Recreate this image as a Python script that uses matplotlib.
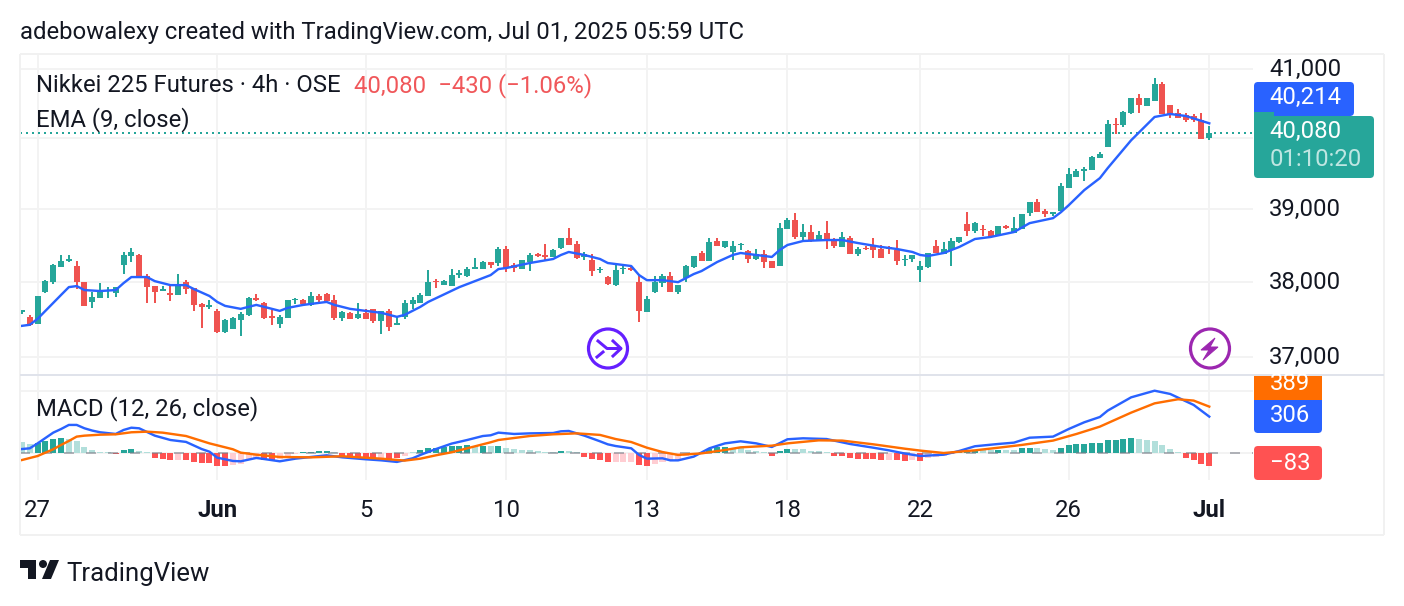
import matplotlib
matplotlib.use("Agg")
import matplotlib.pyplot as plt
from matplotlib.patches import Circle, FancyBboxPatch, Polygon, Rectangle
from matplotlib.transforms import ScaledTranslation

plt.rcParams['font.family'] = ['Roboto', 'DejaVu Sans']

opens = [37600,37533,37440,37867,38000,38206,38288,38219,38000,37733,37787,37880,37853,38233,38356,38370,38082,37947,37880,37853,
37827,38000,37920,37707,37667,37613,37333,37373,37493,37560,37787,37720,37547,37440,37520,37760,37760,37693,37813,37840,
37760,37520,37587,37520,37587,37640,37480,37613,37427,37533,37707,37720,37813,38014,37960,37947,38096,38082,38178,38178,
38274,38260,38452,38233,38178,38274,38384,38370,38343,38466,38603,38521,38343,38301,38164,38069,37960,38178,38192,38000,
37600,37867,37987,38082,37867,38055,38206,38397,38288,38562,38480,38411,38507,38425,38315,38384,38288,38219,38726,38849,
38617,38685,38562,38671,38589,38480,38603,38384,38466,38507,38452,38480,38438,38301,38315,38164,38206,38493,38384,38438,
38548,38795,38699,38726,38699,38630,38767,38671,38726,38945,39099,38973,38932,38973,39296,39451,39535,39549,39718,39873,
40203,40188,40362,40580,40464,40536,40783,40478,40362,40334,40319,40261,40000]
highs = [37627,37560,37813,38027,38247,38370,38370,38288,38000,37867,37987,37933,37933,38411,38466,38384,38110,37947,37947,37947,
38110,38027,37920,37720,37760,37640,37507,37533,37600,37800,37840,37733,37627,37560,37760,37787,37773,37867,37840,37853,
37827,37613,37600,37720,37640,37640,37613,37640,37533,37760,37800,37853,38164,38041,38027,38178,38164,38206,38329,38288,
38274,38480,38493,38260,38301,38397,38397,38521,38452,38603,38740,38562,38411,38384,38206,38082,38260,38219,38206,38110,
37813,38082,38110,38137,37960,38233,38356,38425,38603,38603,38562,38562,38534,38438,38452,38438,38288,38808,38877,38945,
38795,38781,38699,38836,38603,38685,38630,38480,38493,38603,38507,38493,38575,38370,38370,38288,38397,38575,38548,38603,
38617,38959,38822,38781,38712,38767,38781,38891,38932,39099,39141,39000,38959,39366,39577,39563,39591,39746,39803,40261,
40290,40392,40580,40638,40580,40870,40812,40478,40420,40362,40348,40362,40174]
lows = [37573,37413,37440,37853,37973,38206,38274,37907,37680,37653,37787,37787,37800,38110,38274,38069,37720,37720,37880,37747,
37827,37840,37613,37387,37640,37320,37320,37373,37280,37547,37747,37507,37427,37387,37520,37707,37707,37680,37720,37747,
37493,37480,37507,37507,37507,37453,37307,37347,37427,37507,37640,37720,37813,37920,37960,37947,38055,38069,38178,38178,
38192,38219,38137,38137,38178,38151,38343,38288,38343,38452,38507,38315,38301,38082,38123,37960,37947,38110,38151,37467,
37600,37853,37933,37867,37840,38000,38192,38288,38288,38493,38466,38301,38438,38260,38301,38192,38192,38219,38726,38589,
38562,38548,38562,38452,38466,38480,38384,38356,38438,38329,38329,38384,38233,38219,38274,38000,38192,38397,38384,38219,
38534,38630,38671,38630,38603,38630,38726,38671,38726,38904,38959,38891,38904,38973,39296,39451,39394,39549,39718,39873,
40058,40160,40348,40362,40464,40536,40348,40290,40290,40232,40232,39986,39972]
closes = [37627,37427,37813,38014,38233,38288,38315,38000,37680,37800,37867,37893,37933,38370,38411,38069,37933,37867,37907,37827,
37960,37907,37693,37667,37693,37333,37493,37520,37573,37787,37760,37520,37520,37533,37760,37773,37707,37813,37760,37747,
37520,37600,37507,37573,37507,37480,37613,37400,37453,37720,37760,37827,38000,38000,38014,38096,38123,38178,38206,38274,
38233,38452,38192,38192,38301,38370,38356,38343,38438,38603,38507,38329,38384,38151,38178,37973,38164,38192,38164,37613,
37773,38000,38082,37867,37960,38219,38356,38288,38548,38493,38562,38493,38521,38315,38384,38274,38192,38740,38849,38617,
38685,38562,38644,38575,38493,38617,38384,38452,38452,38438,38329,38452,38288,38315,38370,38219,38397,38397,38452,38562,
38617,38699,38808,38712,38617,38767,38740,38740,38932,39099,38959,38932,38959,39324,39493,39535,39563,39732,39775,40203,
40188,40377,40580,40478,40580,40783,40348,40348,40290,40261,40261,39986,40080]

ema_idx = [0,1,2,4,5,6,7,8,10,12,13,14,16,17,19,21,22,24,25,26,28,29,30,31,33,34,36,38,39,40,42,44,46,48,49,51,52,56,60,61,62,65,68,69,70,72,74,75,78,79,80,82,84,85,86,87,89,91,92,94,96,97,98,100,103,105,107,110,112,114,115,116,118,120,122,124,127,129,132,133,134,136,138,139,142,145,147,149,152]
ema_val = [37413,37427,37507,37720,37827,37933,37947,37893,37880,37893,37987,38069,38069,38014,37960,37960,37907,37813,37733,37680,37640,37667,37693,37667,37613,37653,37693,37720,37733,37693,37640,37613,37587,37533,37560,37667,37733,37933,38096,38178,38192,38260,38315,38370,38411,38370,38315,38260,38219,38096,38027,38027,38000,38055,38110,38151,38274,38370,38397,38370,38343,38438,38507,38562,38575,38575,38534,38480,38452,38411,38370,38356,38397,38480,38589,38617,38685,38808,38877,38959,39056,39268,39436,39577,39972,40305,40348,40319,40214]

hist = [76,62,69,83,97,104,97,83,41,21,7,7,-7,21,28,14,7,-28,-35,-41,-41,-41,-55,-62,-62,-83,-83,-76,-69,-41,-28,-41,-41,-35,-28,-7,7,7,14,14,7,
-14,-28,-35,-41,-41,-41,-41,-28,-14,7,21,35,35,41,48,48,55,48,48,48,48,35,28,21,21,14,7,7,14,14,7,-21,-35,-41,-55,-55,-55,-55,-76,-83,-69,-55,-41,-41,-14,-7,7,28,41,41,35,35,21,14,7,-14,14,28,28,28,14,14,7,-14,-14,-28,-35,-35,-35,-41,-41,-41,-48,
-41,-48,-28,-21,-14,-7,7,7,14,21,21,21,21,21,35,35,35,28,21,35,55,62,62,69,69,90,90,97,104,97,90,83,55,28,7,-28,-41,-69,-83]
hist_state = ('ggGGGGggggggRGGggRRRrRRRRRRrrrrRRrrrGGGGgRRRRRrRRrgGGGG'
              'GGGgGgGgggggggGggRRRRrrrRRrrrrrrGGGGgggggRGGgggggRRRRRRRrRR'
              'rRrrrrGGGggGggGGgggG' + 'G' * 9 + 'g' * 6 + 'R' * 4)

macd_idx = [0,1,2,4,5,6,7,8,9,10,12,13,14,15,17,19,21,23,24,25,26,27,28,30,31,33,35,37,39,41,44,46,48,50,51,53,55,57,59,60,61,63,65,68,69,70,72,74,75,76,78,79,80,82,83,84,86,88,90,92,94,96,98,100,103,106,109,111,113,115,118,120,122,125,127,129,132,134,136,138,139,142,145,147,150,152]
macd_val = [37,43,84,173,203,237,237,209,190,176,162,195,214,209,148,112,96,37,15,-35,-48,-62,-65,-37,-46,-65,-43,-29,-15,-32,-48,-57,-70,-40,-12,37,82,112,145,151,173,162,167,170,184,187,148,101,76,62,43,-12,-43,-40,-57,-57,-26,43,84,101,84,54,118,126,120,79,48,26,0,-21,-10,21,60,79,90,131,140,203,259,303,356,466,521,494,403,306]
signal_idx = [0,2,4,5,6,7,8,10,12,14,16,18,21,24,27,28,30,33,37,41,46,49,51,53,55,57,60,61,65,68,71,74,76,78,80,82,84,87,90,92,96,98,102,105,109,113,115,118,120,122,125,128,132,135,138,142,145,148,150,152]
signal_val = [-54,-21,35,71,104,140,148,156,159,176,181,173,145,84,35,7,-10,-29,-32,-23,-43,-59,-43,-15,10,43,93,112,145,159,167,154,120,95,48,12,-12,1,29,51,65,84,109,107,76,40,24,4,15,26,48,71,107,162,223,339,416,450,439,389]

x_ticks = [2,25,44,62,80,98,115,134,152]
x_labels = ['27','Jun','5','10','13','18','22','26','Jul']
y_ticks = [37000,38000,39000,40000,41000]
y_labels = ['37,000','38,000','39,000','','41,000']

GREEN = '#26a69a'; RED = '#ef5350'; BLUE = '#2962ff'; ORANGE = '#ff6d00'
GRID = '#f3f3f3'; TEXT = '#131722'
HIST_COLORS = {'G': GREEN, 'g': '#b2dfdb', 'R': '#ff5252', 'r': '#ffcdd2'}
W, H = 1404, 606
DPI = 100
PX = 72 / DPI
FS = 23.87

def box(x0, y0, x1, y1):
    return [x0 / W, 1 - y1 / H, (x1 - x0) / W, (y1 - y0) / H]

fig = plt.figure(figsize=(W / DPI, H / DPI), dpi=DPI, facecolor='white')

# price pane
ax = fig.add_axes(box(20, 54, 1253, 374))
ax.set_yscale('log')
ax.set_xlim(-0.256, 157.6)
ax.set_ylim(36776, 41220)
ax.set_xticks(x_ticks)
ax.set_yticks(y_ticks)
ax.set_yticks([], minor=True)
ax.yaxis.tick_right()
ax.set_yticklabels(y_labels)
ax.tick_params(axis='y', which='both', length=0, pad=16 * PX, labelsize=FS * PX, labelcolor=TEXT)
ax.tick_params(axis='x', length=0, labelbottom=False)
ax.grid(True, color=GRID, lw=2 * PX)
ax.set_axisbelow(True)
for s in ax.spines.values():
    s.set_visible(False)
shift_up = ScaledTranslation(0, 2 / DPI, fig.dpi_scale_trans)
for lab in ax.get_yticklabels():
    lab.set_transform(lab.get_transform() + shift_up)

idx = list(range(len(opens)))
cols = [GREEN if c >= o else RED for o, c in zip(opens, closes)]
ax.vlines(idx, lows, highs, colors=cols, lw=2 * PX, zorder=3)
ax.bar(idx, [abs(c - o) for o, c in zip(opens, closes)], bottom=[min(o, c) for o, c in zip(opens, closes)],
       width=0.77, color=cols, zorder=3, linewidth=0)
ax.plot(ema_idx, ema_val, color=BLUE, lw=2.4 * PX, zorder=4, solid_joinstyle='round')
ax.axhline(closes[-1], color=GREEN, lw=2 * PX, ls=(0, (1, 2)), zorder=2)

# MACD pane: histogram scale and line scale
ah = fig.add_axes(box(20, 376, 1253, 480))
ah.set_xlim(-0.256, 157.6)
ah.set_ylim(-177, 516)
ah.bar(idx, hist, width=0.77, color=[HIST_COLORS[c] for c in hist_state], linewidth=0, zorder=3)
ah.set_yticks([0, 417])
ah.set_xticks(x_ticks)
ah.set_xticklabels(x_labels)
for lab, name in zip(ah.get_xticklabels(), x_labels):
    if name in ('Jun', 'Jul'):
        lab.set_fontweight('bold')
ah.tick_params(axis='x', length=0, pad=19 * PX, labelsize=FS * PX, labelcolor=TEXT)
ah.tick_params(axis='y', length=0, labelleft=False)
ah.grid(True, color=GRID, lw=2 * PX)
ah.set_axisbelow(True)
for s in ah.spines.values():
    s.set_visible(False)

am = fig.add_axes(box(20, 376, 1253, 480), sharex=ah)
am.patch.set_visible(False)
am.set_ylim(-220, 643)
am.axhline(0, color='#787b86', alpha=0.55, lw=2 * PX, ls=(0, (5, 6)), zorder=1)
am.plot(macd_idx, macd_val, color=BLUE, lw=2.4 * PX, zorder=4)
am.plot(signal_idx, signal_val, color=ORANGE, lw=2.4 * PX, zorder=5)
am.axis('off')

# chrome in pixel coordinates
ov = fig.add_axes([0, 0, 1, 1], zorder=10)
ov.set_xlim(0, W)
ov.set_ylim(H, 0)
ov.axis('off')
ov.patch.set_visible(False)

for x0, y0, x1, y1 in [(20, 54, 1384, 54), (20, 54, 20, 535), (1384, 54, 1384, 535), (20, 535, 1384, 535)]:
    ov.plot([x0, x1], [y0, y1], color='#f1f1f1', lw=2 * PX, solid_capstyle='butt')
ov.plot([20, 1384], [375, 375], color='#e0e3eb', lw=2 * PX, solid_capstyle='butt')


def label(x0, y0, x1, y1, color):
    ov.add_patch(FancyBboxPatch((x0 + 4, y0 + 4), x1 - x0 - 8, y1 - y0 - 8,
                                boxstyle='round,pad=4,rounding_size=4', fc=color, ec='none', zorder=5))


def txt(x, y, s, color=TEXT, size=FS, **kw):
    ov.text(x, y, s, color=color, fontsize=size * PX, va='center', ha=kw.pop('ha', 'left'), zorder=6, **kw)


label(1254, 82, 1354, 116, BLUE)
label(1254, 116, 1374, 178, GREEN)
ov.add_patch(Rectangle((1254, 112), 20, 10, fc=GREEN, ec='none', zorder=5))
ov.add_patch(Rectangle((1254, 376), 68, 24, fc=ORANGE, ec='none', zorder=5))
label(1254, 400, 1322, 433, BLUE)
label(1254, 446, 1322, 480, '#ff5252')
ov.add_patch(Rectangle((1254, 396), 68, 8, fc=BLUE, ec='none', zorder=5))
ov.add_patch(Rectangle((1254, 396), 68, 4, fc=ORANGE, ec='none', zorder=5))

txt(1269.5, 97, '40,214', color='white')
txt(1269.5, 131, '40,080', color='white')
txt(1269.5, 159, '01:10:20', color='#bfe6e2')
txt(1269.5, 384, '389', color='white')
txt(1269.5, 416, '306', color='white')
txt(1269.5, 463, '\u221283', color='white')

txt(20, 33, 'adebowalexy created with TradingView.com, Jul 01, 2025 05:59 UTC')
txt(36, 86, 'Nikkei 225 Futures \u00b7 4h \u00b7 OSE')
txt(354, 86, '40,080\u2002\u2212430 (\u22121.06%)', color='#f0575a')
txt(36, 120, 'EMA (9, close)')
txt(36, 409, 'MACD (12, 26, close)')
txt(66, 574, 'TradingView', size=25.8)

# event badges
V = '#651fff'; M = '#9c27b0'
ov.add_patch(Circle((608, 348.5), 19.5, fc='white', ec=V, lw=3.2 * PX, zorder=5))
ov.plot([598, 607, 620], [341, 348.5, 348.5], color=V, lw=3 * PX, zorder=6)
ov.plot([597, 603], [357, 352], color=V, lw=3 * PX, zorder=6)
ov.plot([613, 621, 613], [341, 348.5, 356], color=V, lw=3 * PX, zorder=6)
ov.add_patch(Circle((1210, 348.5), 19.5, fc='white', ec=M, lw=3.2 * PX, zorder=5))
ov.add_patch(Polygon([(1215, 338), (1201, 350), (1209, 350), (1203, 360), (1218, 347), (1210, 347)],
                     fc=M, ec=M, lw=1 * PX, zorder=6))

# logo
K = '#131722'
ov.add_patch(Polygon([(20, 560), (36, 560), (36, 579), (28, 579), (28, 568), (20, 568)], fc=K, ec='none'))
ov.add_patch(Circle((43, 564), 4, fc=K, ec='none'))
ov.add_patch(Polygon([(50, 560), (59, 560), (51, 579), (42, 579)], fc=K, ec='none'))

fig.savefig('out.png', dpi=DPI, facecolor='white')
